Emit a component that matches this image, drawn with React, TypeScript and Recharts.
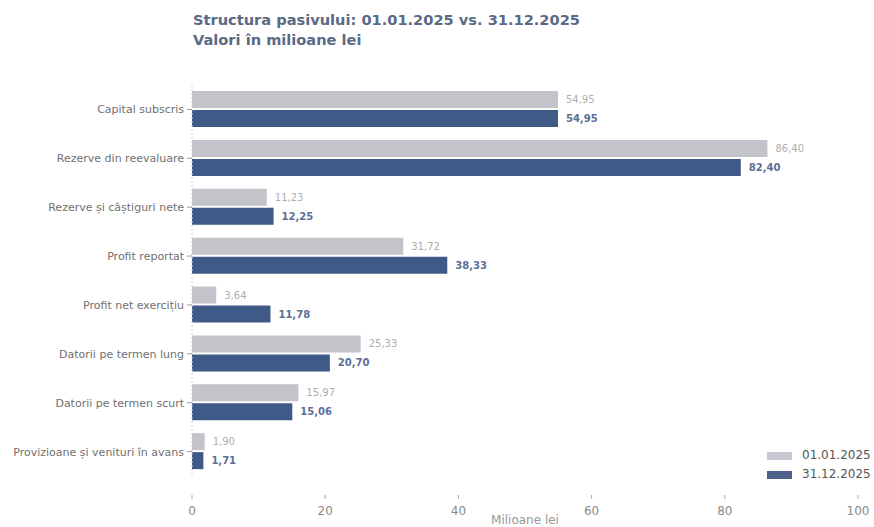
import React from "react";
import { BarChart, Bar, XAxis, YAxis, LabelList } from "recharts";

const categories = [
  "Capital subscris",
  "Rezerve din reevaluare",
  "Rezerve și câștiguri nete",
  "Profit reportat",
  "Profit net exercițiu",
  "Datorii pe termen lung",
  "Datorii pe termen scurt",
  "Provizioane și venituri în avans",
];
const start2025 = [54.95, 86.4, 11.23, 31.72, 3.64, 25.33, 15.97, 1.9];
const end2025 = [54.95, 82.4, 12.25, 38.33, 11.78, 20.7, 15.06, 1.71];
const xTicks = [0, 20, 40, 60, 80, 100];
const seriesNames = ["01.01.2025", "31.12.2025"];

const data = categories.map((c, i) => ({ name: c, a: start2025[i], b: end2025[i] }));

const GREY = "#c3c4ca";
const BLUE = "#405a87";
const FONT = "'DejaVu Sans', sans-serif";

const fmt = (v: any) => Number(v).toFixed(2).replace(".", ",");

const XTick = (props: any) => {
  const { x, y, payload } = props;
  return (
    <g>
      <line x1={x} x2={x} y1={y + 11} y2={y + 15} stroke="#aaa" strokeWidth={1} />
      <text x={x} y={y + 31} textAnchor="middle" fill="#8a8a8a" fontSize={12} fontFamily={FONT}>
        {payload.value}
      </text>
    </g>
  );
};

const YTick = (props: any) => {
  const { x, y, payload } = props;
  return (
    <text x={x - 1} y={y} dy={4} textAnchor="end" fill="#707070" fontSize={11} fontFamily={FONT}>
      {payload.value}
    </text>
  );
};

export default function App() {
  return (
    <div style={{ position: "absolute", left: 0, top: 0, width: 874, height: 527, background: "#fff", fontFamily: FONT }}>
      <div style={{ position: "absolute", left: 193, top: 10, color: "#5a6a85", fontWeight: "bold", fontSize: 14.6, lineHeight: "20px" }}>
        <div>Structura pasivului: 01.01.2025 vs. 31.12.2025</div>
        <div>Valori în milioane lei</div>
      </div>
      <BarChart
        width={874}
        height={527}
        data={data}
        layout="vertical"
        margin={{ top: 85, right: 16, bottom: 0, left: 0 }}
        barCategoryGap={6}
        barGap={2}
      >
        <XAxis
          type="number"
          domain={[0, 100]}
          ticks={xTicks}
          axisLine={false}
          tickLine={false}
          tick={<XTick />}
          height={51}
          interval={0}
        />
        <YAxis
          type="category"
          dataKey="name"
          width={192}
          axisLine={{ stroke: "#c8ccd6", strokeDasharray: "2 2" }}
          tickLine={{ stroke: "#999" }}
          tickSize={5}
          tick={<YTick />}
          interval={0}
        />
        <Bar dataKey="a" name={seriesNames[0]} fill={GREY} barSize={17} isAnimationActive={false}>
          <LabelList dataKey="a" position="right" offset={8} formatter={fmt} fill="#aeaeae" fontSize={10} fontFamily={FONT} />
        </Bar>
        <Bar dataKey="b" name={seriesNames[1]} fill={BLUE} barSize={17} isAnimationActive={false}>
          <LabelList dataKey="b" position="right" offset={8} formatter={fmt} fill="#5a6f96" fontSize={10} fontWeight="bold" fontFamily={FONT} />
        </Bar>
      </BarChart>
      <div style={{ position: "absolute", left: 480, width: 90, top: 513, textAlign: "center", color: "#999", fontSize: 12 }}>Milioane lei</div>
      <div style={{ position: "absolute", left: 767, top: 446, fontSize: 12, color: "#555", lineHeight: "19px" }}>
        {seriesNames.map((n, i) => (
          <div key={n} style={{ display: "flex", alignItems: "center" }}>
            <span style={{ display: "inline-block", width: 25, height: 8, background: i === 0 ? "#c8cad3" : "#4c6189", marginRight: 10 }} />
            <span>{n}</span>
          </div>
        ))}
      </div>
    </div>
  );
}
